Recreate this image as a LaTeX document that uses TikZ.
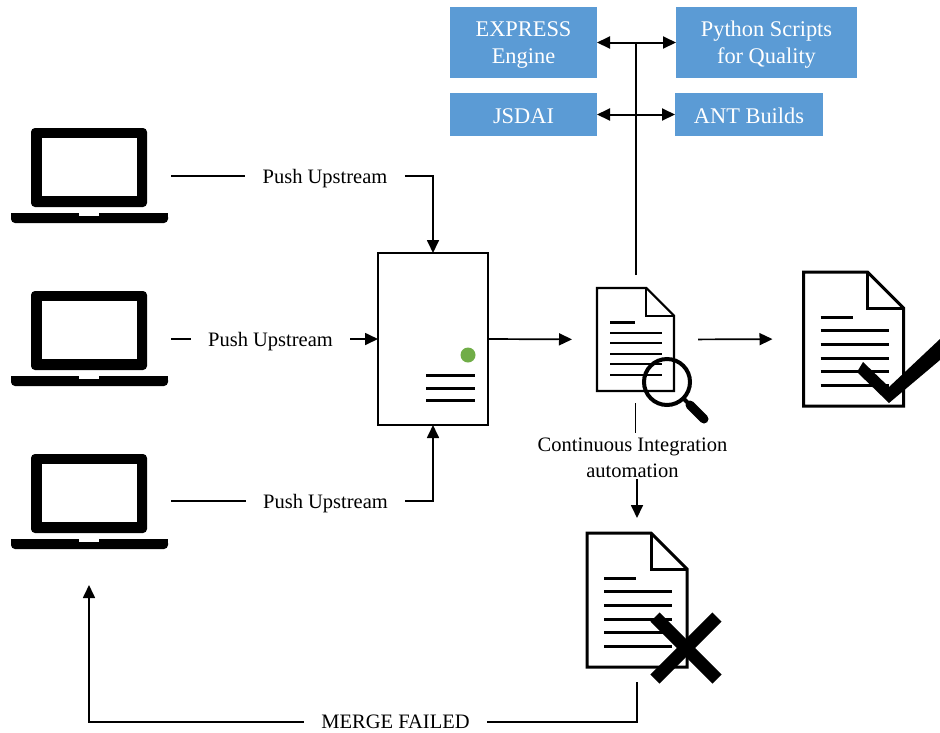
\documentclass[tikz,border=0pt]{standalone}
\usepackage{fontspec}
\setmainfont{Liberation Serif}
\usetikzlibrary{arrows.meta,calc,positioning}

\definecolor{boxblue}{HTML}{5B9BD5}
\definecolor{ledgreen}{HTML}{70AD47}

\tikzset{
	toolbox/.style={fill=boxblue,text=white,inner sep=0pt,outer sep=0pt,align=center,text depth=0pt,font=\fontsize{22.4}{27}\selectfont},
	iconbox/.style={inner sep=0pt,outer sep=0pt},
	flowlabel/.style={inner ysep=2pt,inner xsep=17.5pt,outer sep=0pt,align=center,text depth=0pt,font=\fontsize{20.5}{26}\selectfont},
	toolarrow/.style={line width=2pt},
	laptop/.pic={
		\fill[rounded corners=4pt] (-58.5,-48) rectangle (57.5,31);
		\fill[white] (-48,-38) rectangle (47.5,20);
		\fill[rounded corners=4pt] (-78.5,37) -- (78.5,37) -- (78.5,47) -- (-78.5,47) -- cycle;
		\fill (-78.5,37) rectangle (78.5,41);
		\fill[white] (-10.5,36) rectangle (9.5,40);
	},
	document/.pic={
		\draw[line join=miter] (-50,-67) -- (14,-67) -- (50,-31) -- (50,67) -- (-50,67) -- cycle;
		\draw (14,-67) -- (14,-31) -- (50,-31);
		\draw (-33,-22) -- (-1,-22);
		\foreach \y in {-8.5,5,19,32,46}
			\draw (-33,\y) -- (35,\y);
	}
}

\begin{document}
\begin{tikzpicture}[x=1pt,y=-1pt,>={Triangle[length=13pt,width=12pt]},line width=1.7pt,node distance=67pt]
	\useasboundingbox (0,0) rectangle (940,732);

	% laptops
	\node[iconbox,minimum width=157pt,minimum height=96pt] (lap_1) at (89.5,176) {};
	\node[iconbox,minimum width=157pt,minimum height=96pt] [below=of lap_1] (lap_2) {};
	\node[iconbox,minimum width=157pt,minimum height=96pt] [below=of lap_2] (lap_3) {};
	\pic at (lap_1) {laptop};
	\pic at (lap_2) {laptop};
	\pic at (lap_3) {laptop};

	% server
	\node[iconbox,draw,line width=2pt,minimum width=110pt,minimum height=172pt] (server) at (433,339) {};
	\fill[ledgreen] (468,355) circle (7.5);
	\foreach \y in {375.5,388,400}
		\draw[line width=3pt] (426,\y) -- (475,\y);

	% documents
	\node[iconbox,minimum width=77pt,minimum height=103pt] (doc_ci) at (635.5,339.5) {};
	\node[iconbox,minimum width=100pt,minimum height=134pt] (doc_ok) at (853.5,339) {};
	\node[iconbox,minimum width=100pt,minimum height=134pt] (doc_fail) at (637,600) {};
	\pic[scale=.77,line width=2.2pt] at (doc_ci) {document};
	\pic[line width=3pt] at (doc_ok) {document};
	\pic[line width=3pt] at (doc_fail) {document};

	% magnifier, tick and cross
	\draw[line width=4pt] (667,382) circle (23);
	\draw[line width=4pt] (683,398) -- (690,405);
	\draw[line width=9pt,line cap=round] (690,405) -- (704,419);
	\fill (863,362) -- (889,387) -- (940,339) -- (940,360) -- (889,403) -- (857,372) -- cycle;
	\draw[line width=13pt] (655,617) -- (717,679);
	\draw[line width=13pt] (717,617) -- (655,679);

	% tools
	\node[toolbox,minimum width=147pt,minimum height=71pt] (tool_express) at (523.5,42.5) {EXPRESS\\Engine};
	\node[toolbox,minimum width=181pt,minimum height=71pt] (tool_python) at (766.5,42.5) {Python Scripts\\for Quality};
	\node[toolbox,text height=18pt,minimum width=147pt,minimum height=43pt] (tool_jsdai) at (523.5,114.5) {JSDAI};
	\node[toolbox,text height=18pt,minimum width=148pt,minimum height=43pt] (tool_ant) at (749,114.5) {ANT Builds};

	% labels
	\node[flowlabel] (push_1) at (325,176) {Push Upstream};
	\node[flowlabel] (push_2) at (270.5,339) {Push Upstream};
	\node[flowlabel] (push_3) at (325.5,501) {Push Upstream};
	\node[flowlabel] (lbl_ci) at (632.5,457.5) {Continuous Integration\\automation};
	\node[flowlabel,inner ysep=0pt] (lbl_merge) at (395.5,722) {MERGE FAILED};

	\coordinate (hub_a) at (doc_ci.north |- tool_express.east);

	\draw[shorten <=3pt] (lap_1.east) -- (push_1);
	\draw[shorten <=3pt] (lap_2.east |- push_2) -- (push_2);
	\draw[shorten <=3pt] (lap_3.east |- push_3) -- (push_3);
	\draw[->] (push_1) -| (server.north);
	\draw[->] (push_2) -- (server.west);
	\draw[->] (push_3) -| (server.south);
	\draw[->,shorten >=25pt] (server.east) -- (doc_ci.west);
	\draw[->,shorten <=24pt,shorten >=31pt] (doc_ci.east) -- (doc_ok.west);
	\draw[toolarrow,shorten <=13pt] (doc_ci.north) -- (hub_a);
	\draw[toolarrow,->] (hub_a) -- (tool_express.east);
	\draw[toolarrow,->] (hub_a) -- (tool_python.west);
	\draw[toolarrow,<->] (tool_jsdai.east) -- (tool_ant.west);
	\draw[shorten <=12pt,shorten >=3pt] (doc_ci.south) -- (doc_ci.south |- lbl_ci.north);
	\draw[->,shorten >=15pt] (doc_fail.north |- lbl_ci.south) -- (doc_fail.north);
	\draw[shorten <=15pt] (doc_fail.south) |- (lbl_merge);
	\draw[->] (lbl_merge) -| (89,585);
\end{tikzpicture}
\end{document}
